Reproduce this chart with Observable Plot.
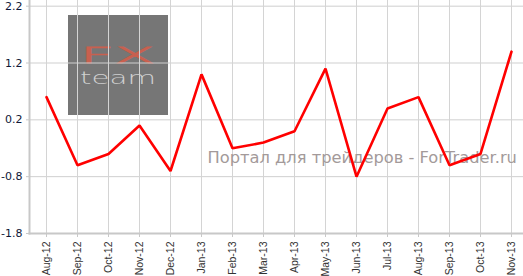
<!DOCTYPE html>
<html><head><meta charset="utf-8">
<script src="https://cdn.jsdelivr.net/npm/d3@7"></script>
<script src="https://cdn.jsdelivr.net/npm/@observablehq/plot@0.6"></script>
<style>
html,body{margin:0;padding:0;background:#fff;}
#chart{position:relative;width:523px;height:276px;overflow:hidden;}
</style>
</head><body><div id="chart"></div>
<script>
const months = ["Aug-12","Sep-12","Oct-12","Nov-12","Dec-12","Jan-13","Feb-13","Mar-13","Apr-13","May-13","Jun-13","Jul-13","Aug-13","Sep-13","Oct-13","Nov-13"];
const values = [0.6,-0.6,-0.4,0.1,-0.7,1.0,-0.3,-0.2,0.0,1.1,-0.8,0.4,0.6,-0.6,-0.4,1.4];
const yTicks = [-1.8,-0.8,0.2,1.2,2.2];
const watermark = "Портал для трейдеров - ForTrader.ru";

const data = months.map((m,i)=>({month:m, value:values[i]}));

const plot = Plot.plot({
  width:523, height:276,
  marginLeft:29, marginRight:0, marginTop:0, marginBottom:43,
  style:{background:"#fff"},
  x:{type:"point", domain:months, padding:0, insetLeft:17, insetRight:12, label:null},
  y:{domain:[-1.8,2.3], label:null},
  marks:[
    Plot.gridY(yTicks,{stroke:"#cfcfcf", strokeOpacity:1}),
    Plot.gridX(months,{stroke:"#d4d4d4", strokeOpacity:1}),
    Plot.text([watermark],{frameAnchor:"top-left", dx:178, dy:151, text:d=>d, fill:"#a39a9a", fontSize:16.3, fontFamily:"DejaVu Sans", textAnchor:"start"}),
    Plot.frame({anchor:"left", stroke:"#c8c8c8", strokeWidth:2}),
    Plot.frame({anchor:"bottom", stroke:"#c8c8c8", strokeWidth:2}),
    Plot.axisY(yTicks,{tickFormat:d=>d.toFixed(1), tickSize:3, tickPadding:4, stroke:"#c8c8c8", fill:"#0f1838", fontSize:11, fontFamily:"DejaVu Sans"}),
    Plot.axisX(months,{tickSize:4, tickRotate:-90, tickPadding:4, stroke:"#c8c8c8", fill:"#333", fontSize:10.5, fontFamily:"Liberation Sans"}),
    Plot.line(data,{x:"month", y:"value", stroke:"#ff0000", strokeWidth:2.6, strokeLinejoin:"miter"})
  ]
});
document.getElementById("chart").appendChild(plot);

// logo behind the grid
const svg = d3.select(plot);
const g = svg.insert("g", ":first-child").attr("class","logo").attr("text-anchor","start");
g.append("rect").attr("x",68).attr("y",15).attr("width",100).attr("height",100).attr("fill","#767676");
g.append("text").attr("x",80).attr("y",63).attr("textLength",75).attr("lengthAdjust","spacingAndGlyphs")
  .attr("font-family","DejaVu Sans").attr("font-weight","200").attr("font-size",22)
  .attr("fill","#c8604f").attr("stroke","#c8604f").attr("stroke-width",0.8).text("FX");
g.append("text").attr("x",80).attr("y",84).attr("textLength",76).attr("lengthAdjust","spacingAndGlyphs")
  .attr("font-family","DejaVu Sans").attr("font-weight","200").attr("font-size",17).attr("fill","#d0d0d0").text("team");
svg.insert("rect", ":first-child").attr("width",523).attr("height",276).attr("fill","#fff");
</script></body></html>
